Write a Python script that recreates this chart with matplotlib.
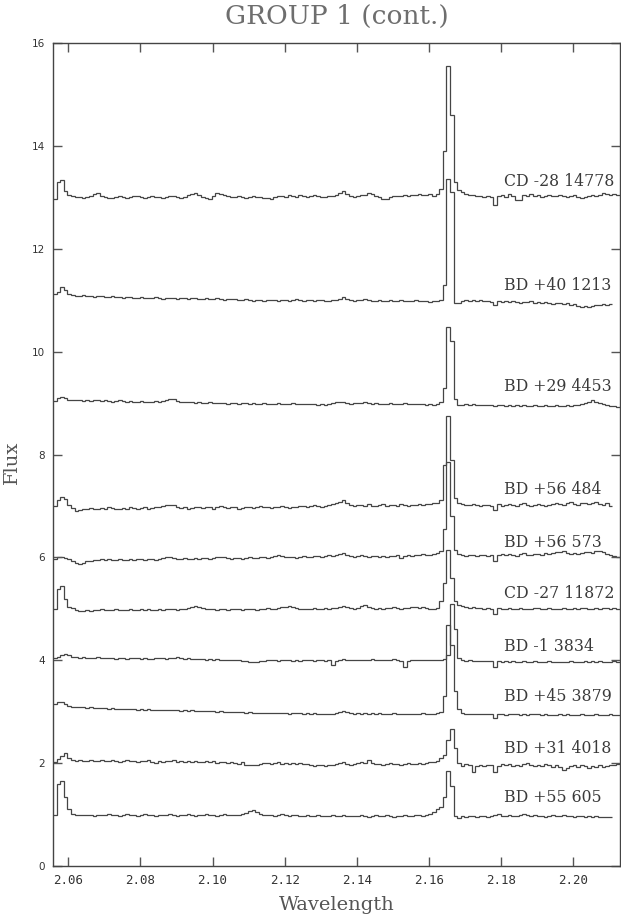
import numpy as np
import matplotlib
matplotlib.use("Agg")
import matplotlib.pyplot as plt

# ---------------- data ----------------
wl_start = 2.0558      # left edge of first bin (micron)
wl_step = 0.001        # bin width (micron)

star_names = ["CD -28 14778", "BD +40 1213", "BD +29 4453", "BD +56 484", "BD +56 573",
              "CD -27 11872", "BD -1 3834", "BD +45 3879", "BD +31 4018", "BD +55 605"]

cd_m28_14778 = [
    12.96, 13.30, 13.34, 13.12, 13.05, 13.02, 13.01, 13.00, 12.99, 13.01,
    13.03, 13.07, 13.08, 13.03, 13.00, 12.99, 12.98, 13.00, 13.02, 13.01,
    12.99, 13.00, 13.02, 13.03, 13.01, 12.99, 13.00, 13.02, 13.01, 13.00,
    12.99, 13.01, 13.03, 13.02, 13.00, 12.99, 13.01, 13.04, 13.06, 13.08,
    13.04, 13.01, 12.99, 12.96, 13.03, 13.08, 13.07, 13.04, 13.02, 13.01,
    13.00, 13.02, 13.01, 12.99, 13.00, 13.02, 13.01, 13.00, 12.98, 12.99,
    12.96, 13.01, 13.03, 13.02, 13.00, 13.04, 13.03, 13.01, 13.04, 13.02,
    13.01, 13.03, 13.05, 13.02, 13.00, 13.01, 13.03, 13.02, 13.04, 13.08,
    13.13, 13.07, 13.03, 13.01, 13.02, 13.04, 13.05, 13.09, 13.06, 13.02,
    13.00, 12.96, 12.96, 13.01, 13.02, 13.03, 13.02, 13.04, 13.03, 13.05,
    13.04, 13.06, 13.05, 13.04, 13.06, 13.03, 13.06, 13.17, 13.90, 15.55,
    14.60, 13.30, 13.15, 13.10, 13.06, 13.04, 13.05, 13.02, 13.03, 13.01,
    13.03, 13.00, 12.85, 13.02, 13.04, 13.00, 13.06, 13.02, 12.95, 12.95,
    13.05, 13.03, 13.06, 13.02, 13.04, 13.01, 13.03, 13.05, 13.02, 13.03,
    13.04, 13.02, 13.00, 13.03, 13.04, 13.01, 12.99, 13.01, 13.03, 13.04,
    13.02, 13.05, 13.08, 13.06, 13.04, 13.07, 13.05]

bd_p40_1213 = [
    11.12, 11.15, 11.25, 11.20, 11.12, 11.10, 11.09, 11.08, 11.10, 11.09,
    11.08, 11.07, 11.09, 11.08, 11.06, 11.07, 11.08, 11.07, 11.06, 11.05,
    11.06, 11.07, 11.05, 11.04, 11.06, 11.05, 11.04, 11.05, 11.06, 11.04,
    11.03, 11.04, 11.05, 11.04, 11.03, 11.05, 11.04, 11.03, 11.04, 11.05,
    11.03, 11.02, 11.04, 11.03, 11.02, 11.04, 11.03, 11.01, 11.02, 11.03,
    11.02, 11.01, 11.00, 11.02, 11.01, 10.99, 11.00, 11.01, 10.99, 11.00,
    11.01, 11.00, 10.99, 11.01, 11.00, 10.99, 11.00, 11.02, 11.00, 10.99,
    11.00, 11.01, 10.99, 11.00, 11.01, 10.99, 10.98, 11.00, 11.01, 11.03,
    11.07, 11.03, 11.00, 10.99, 11.00, 11.01, 11.02, 11.00, 10.98, 10.99,
    11.00, 10.98, 10.99, 11.00, 10.99, 10.98, 11.00, 10.99, 10.98, 10.99,
    11.00, 10.98, 10.99, 10.98, 10.97, 10.99, 10.98, 11.00, 11.30, 13.35,
    13.10, 10.95, 10.94, 10.98, 11.00, 10.99, 11.00, 10.98, 11.00, 10.98,
    10.99, 10.97, 10.90, 10.99, 10.97, 10.98, 10.96, 10.99, 10.97, 10.95,
    10.97, 10.96, 10.98, 10.95, 10.97, 10.94, 10.96, 10.95, 10.93, 10.95,
    10.94, 10.92, 10.94, 10.91, 10.93, 10.88, 10.87, 10.89, 10.87, 10.88,
    10.90, 10.91, 10.92, 10.91, 10.93]

bd_p29_4453 = [
    9.04, 9.09, 9.11, 9.09, 9.06, 9.05, 9.06, 9.05, 9.04, 9.05,
    9.04, 9.05, 9.06, 9.04, 9.05, 9.04, 9.03, 9.04, 9.05, 9.04,
    9.03, 9.04, 9.03, 9.02, 9.04, 9.03, 9.02, 9.03, 9.04, 9.03,
    9.04, 9.06, 9.08, 9.07, 9.04, 9.03, 9.02, 9.03, 9.02, 9.01,
    9.02, 9.01, 9.00, 9.02, 9.01, 9.00, 9.01, 9.00, 8.99, 9.01,
    9.00, 8.99, 9.00, 9.01, 8.99, 9.00, 8.99, 8.98, 9.00, 8.99,
    8.98, 8.99, 9.00, 8.99, 8.98, 8.99, 9.00, 8.98, 8.99, 8.98,
    8.99, 8.98, 8.99, 8.97, 8.98, 8.97, 8.98, 9.00, 9.02, 9.03,
    9.02, 9.00, 8.99, 9.00, 9.01, 9.00, 9.02, 9.01, 8.99, 9.00,
    8.99, 8.98, 8.99, 9.00, 8.99, 8.98, 8.99, 9.00, 8.98, 8.99,
    8.98, 8.99, 8.98, 8.97, 8.98, 8.97, 8.98, 9.03, 9.30, 10.47,
    10.20, 9.08, 8.96, 8.97, 8.98, 8.97, 8.98, 8.96, 8.97, 8.96,
    8.97, 8.96, 8.94, 8.96, 8.97, 8.95, 8.96, 8.94, 8.96, 8.95,
    8.96, 8.94, 8.95, 8.96, 8.94, 8.95, 8.96, 8.95, 8.94, 8.96,
    8.95, 8.94, 8.96, 8.95, 8.97, 8.96, 8.98, 9.00, 9.03, 9.05,
    9.03, 9.00, 8.98, 8.96, 8.94, 8.95, 8.93]

bd_p56_484 = [
    7.00, 7.12, 7.18, 7.14, 7.02, 6.96, 6.91, 6.92, 6.94, 6.95,
    6.96, 6.95, 6.94, 6.96, 6.95, 6.97, 6.96, 6.94, 6.95, 6.96,
    6.95, 6.97, 6.96, 6.95, 6.96, 6.97, 6.95, 6.96, 6.97, 6.98,
    6.99, 7.01, 7.02, 7.01, 6.98, 6.96, 6.97, 6.95, 6.96, 6.98,
    6.97, 6.96, 6.98, 6.97, 6.95, 6.97, 6.99, 6.97, 6.96, 6.98,
    6.97, 6.95, 6.96, 6.98, 6.97, 6.96, 6.97, 6.99, 6.98, 6.97,
    6.96, 6.98, 6.97, 6.99, 6.98, 6.96, 6.98, 6.97, 6.99, 7.00,
    6.98, 6.99, 7.01, 6.99, 6.98, 7.00, 7.01, 7.03, 7.05, 7.08,
    7.12, 7.06, 7.02, 7.00, 7.02, 7.01, 7.00, 7.03, 7.00, 6.99,
    7.01, 7.03, 7.00, 7.01, 7.02, 7.00, 7.03, 7.01, 7.00, 7.02,
    7.01, 7.03, 7.02, 7.04, 7.03, 7.05, 7.06, 7.12, 7.80, 8.75,
    7.90, 7.15, 7.05, 7.03, 7.02, 7.01, 7.03, 7.01, 7.00, 7.02,
    7.01, 7.00, 6.92, 7.03, 7.00, 7.02, 7.04, 7.01, 7.00, 7.03,
    7.05, 7.02, 7.00, 7.01, 7.03, 7.02, 7.00, 7.02, 7.04, 7.06,
    7.04, 7.02, 7.05, 7.07, 7.04, 7.02, 7.05, 7.06, 7.03, 7.05,
    7.07, 7.04, 7.02, 7.06, 7.00]

bd_p56_573 = [
    5.96, 6.01, 6.00, 5.98, 5.96, 5.93, 5.90, 5.88, 5.90, 5.92,
    5.93, 5.95, 5.94, 5.96, 5.95, 5.96, 5.94, 5.95, 5.96, 5.95,
    5.94, 5.96, 5.95, 5.97, 5.96, 5.95, 5.97, 5.96, 5.95, 5.97,
    5.98, 6.00, 6.01, 5.99, 5.97, 5.96, 5.98, 5.97, 5.96, 5.98,
    5.97, 5.99, 5.98, 5.97, 5.99, 6.00, 6.01, 6.00, 5.98, 5.97,
    5.99, 5.98, 5.97, 5.99, 6.00, 5.98, 5.99, 6.01, 6.00, 5.99,
    6.01, 6.03, 6.04, 6.02, 6.00, 6.01, 6.00, 5.99, 6.01, 6.02,
    6.01, 6.00, 6.02, 6.03, 6.01, 6.02, 6.04, 6.03, 6.05, 6.07,
    6.09, 6.05, 6.02, 6.01, 6.02, 6.04, 6.02, 6.01, 6.03, 6.02,
    6.00, 6.02, 6.01, 6.03, 6.02, 6.04, 5.98, 6.03, 6.04, 6.03,
    6.05, 6.04, 6.06, 6.05, 6.04, 6.07, 6.08, 6.12, 6.55, 7.85,
    6.80, 6.15, 6.06, 6.04, 6.03, 6.05, 6.04, 6.03, 6.05, 6.04,
    6.03, 6.05, 5.93, 6.05, 6.07, 6.04, 6.06, 6.05, 6.03, 6.06,
    6.08, 6.05, 6.04, 6.07, 6.06, 6.05, 6.08, 6.07, 6.09, 6.11,
    6.10, 6.12, 6.08, 6.06, 6.09, 6.07, 6.08, 6.10, 6.11, 6.09,
    6.12, 6.13, 6.10, 6.07, 6.04, 6.02, 6.01]

cd_m27_11872 = [
    5.00, 5.38, 5.45, 5.20, 5.04, 5.01, 4.98, 4.96, 4.96, 4.97,
    4.96, 4.98, 4.97, 4.99, 4.98, 4.97, 4.98, 4.99, 4.98, 4.97,
    4.98, 4.99, 4.98, 4.97, 4.99, 4.98, 4.99, 4.98, 4.97, 4.99,
    4.98, 4.99, 5.00, 4.99, 4.98, 4.99, 5.00, 5.01, 5.03, 5.05,
    5.04, 5.01, 4.99, 5.00, 4.99, 4.98, 5.00, 4.99, 4.98, 5.00,
    4.99, 5.00, 4.98, 4.99, 5.00, 4.99, 4.98, 5.00, 4.99, 5.01,
    5.00, 4.99, 5.01, 5.03, 5.04, 5.05, 5.03, 5.01, 5.00, 4.99,
    5.00, 4.99, 5.01, 5.00, 4.99, 5.01, 5.00, 5.02, 5.01, 5.03,
    5.05, 5.03, 5.01, 5.00, 5.02, 5.05, 5.07, 5.04, 5.02, 5.00,
    5.01, 5.00, 5.02, 5.01, 5.03, 5.02, 5.00, 5.02, 5.01, 5.03,
    5.04, 5.02, 5.03, 5.01, 5.00, 4.99, 5.02, 5.15, 5.50, 6.15,
    5.60, 5.15, 5.07, 5.05, 5.04, 5.02, 5.03, 5.01, 5.02, 5.00,
    5.01, 5.00, 4.90, 5.01, 5.00, 4.99, 5.01, 5.00, 4.99, 5.01,
    5.00, 4.99, 5.00, 5.02, 5.01, 5.00, 4.99, 5.01, 5.00, 4.99,
    5.00, 5.01, 5.00, 4.99, 5.01, 5.00, 5.02, 5.01, 5.00, 4.99,
    5.01, 5.00, 5.02, 5.01, 5.00, 5.01, 5.00]

bd_m1_3834 = [
    4.04, 4.06, 4.10, 4.12, 4.10, 4.07, 4.06, 4.05, 4.06, 4.05,
    4.04, 4.05, 4.06, 4.05, 4.04, 4.05, 4.04, 4.03, 4.05, 4.04,
    4.03, 4.04, 4.05, 4.04, 4.03, 4.04, 4.03, 4.02, 4.04, 4.05,
    4.04, 4.03, 4.04, 4.05, 4.06, 4.04, 4.03, 4.04, 4.03, 4.02,
    4.03, 4.02, 4.01, 4.02, 4.01, 4.02, 4.01, 4.00, 4.01, 4.00,
    4.00, 4.01, 3.99, 3.98, 3.97, 3.96, 3.96, 3.98, 3.99, 4.00,
    4.01, 4.00, 3.99, 4.00, 4.01, 4.00, 3.99, 4.00, 3.99, 4.00,
    4.01, 4.00, 3.99, 4.00, 4.01, 3.99, 4.00, 3.91, 3.99, 4.00,
    4.02, 4.01, 4.00, 4.01, 4.00, 4.01, 4.00, 4.01, 4.02, 4.00,
    4.01, 4.00, 4.01, 4.00, 4.02, 4.00, 3.99, 3.87, 3.99, 4.00,
    4.01, 4.00, 4.01, 4.00, 4.01, 4.00, 4.01, 4.00, 4.02, 4.10,
    5.10, 4.60, 4.05, 4.00, 3.99, 4.00, 3.99, 3.98, 3.99, 3.98,
    3.99, 3.98, 3.87, 3.98, 3.97, 3.98, 3.97, 3.98, 3.96, 3.97,
    3.98, 3.97, 3.96, 3.98, 3.97, 3.96, 3.97, 3.98, 3.97, 3.96,
    3.97, 3.96, 3.97, 3.98, 3.97, 3.96, 3.97, 3.98, 3.97, 3.98,
    3.97, 3.98, 3.97, 3.96, 3.97, 3.98, 3.97]

bd_p45_3879 = [
    3.15, 3.19, 3.18, 3.15, 3.12, 3.10, 3.09, 3.10, 3.09, 3.08,
    3.09, 3.08, 3.07, 3.08, 3.07, 3.06, 3.07, 3.06, 3.05, 3.06,
    3.05, 3.06, 3.05, 3.04, 3.05, 3.04, 3.05, 3.04, 3.03, 3.04,
    3.03, 3.04, 3.03, 3.04, 3.03, 3.02, 3.03, 3.02, 3.03, 3.02,
    3.01, 3.02, 3.01, 3.02, 3.01, 3.00, 3.01, 3.00, 2.99, 3.00,
    2.99, 3.00, 2.99, 2.98, 2.99, 2.98, 2.97, 2.98, 2.97, 2.98,
    2.97, 2.98, 2.97, 2.98, 2.97, 2.96, 2.97, 2.98, 2.97, 2.96,
    2.97, 2.96, 2.97, 2.96, 2.95, 2.96, 2.95, 2.96, 2.98, 3.00,
    3.02, 2.99, 2.97, 2.96, 2.97, 2.96, 2.97, 2.96, 2.97, 2.96,
    2.97, 2.96, 2.95, 2.96, 2.97, 2.96, 2.95, 2.96, 2.95, 2.96,
    2.95, 2.96, 2.97, 2.96, 2.95, 2.96, 2.97, 3.00, 3.30, 4.68,
    4.30, 3.40, 3.05, 2.97, 2.96, 2.95, 2.96, 2.95, 2.96, 2.95,
    2.96, 2.95, 2.87, 2.96, 2.95, 2.94, 2.95, 2.96, 2.95, 2.94,
    2.95, 2.94, 2.95, 2.96, 2.95, 2.94, 2.95, 2.94, 2.93, 2.94,
    2.95, 2.94, 2.95, 2.94, 2.93, 2.94, 2.95, 2.94, 2.93, 2.94,
    2.95, 2.94, 2.93, 2.94, 2.95, 2.94, 2.94]

bd_p31_4018 = [
    2.03, 2.08, 2.14, 2.20, 2.10, 2.07, 2.05, 2.06, 2.04, 2.05,
    2.06, 2.04, 2.05, 2.07, 2.05, 2.04, 2.06, 2.05, 2.03, 2.05,
    2.06, 2.04, 2.05, 2.03, 2.05, 2.04, 2.06, 2.03, 2.00, 2.04,
    2.03, 2.05, 2.04, 2.06, 2.03, 2.04, 2.02, 2.04, 2.03, 2.05,
    2.02, 2.03, 2.05, 2.02, 2.04, 2.01, 2.03, 2.02, 2.00, 2.02,
    2.01, 1.99, 2.02, 1.97, 1.96, 1.97, 1.96, 1.99, 2.01, 2.00,
    1.98, 2.00, 2.02, 1.99, 2.01, 1.98, 2.00, 1.99, 2.01, 1.98,
    1.99, 1.96, 1.95, 1.97, 1.96, 1.95, 1.97, 1.96, 1.99, 2.01,
    2.03, 1.99, 1.97, 1.98, 2.00, 2.03, 2.00, 2.06, 2.00, 1.98,
    1.99, 1.97, 1.98, 2.00, 1.98, 1.99, 1.97, 1.99, 2.01, 1.99,
    1.98, 2.00, 1.99, 2.01, 2.03, 2.02, 2.05, 2.10, 2.15, 2.45,
    2.66, 2.30, 2.00, 1.95, 1.98, 1.96, 1.83, 1.95, 1.97, 1.94,
    1.96, 1.97, 1.83, 1.95, 1.98, 1.96, 1.99, 1.95, 1.97, 1.94,
    1.98, 2.00, 1.96, 1.94, 1.97, 1.95, 1.98, 1.96, 1.93, 1.96,
    1.92, 1.87, 1.90, 1.95, 1.97, 1.93, 1.96, 1.94, 1.91, 1.95,
    1.93, 1.96, 1.92, 1.95, 1.97, 1.96, 1.98]

bd_p55_605 = [
    1.00, 1.60, 1.65, 1.35, 1.10, 1.02, 1.00, 0.99, 1.00, 0.99,
    1.00, 0.98, 0.99, 1.00, 0.99, 1.01, 1.00, 0.99, 0.98, 1.00,
    1.01, 0.99, 1.00, 0.98, 1.00, 1.01, 0.99, 1.00, 0.98, 0.99,
    1.00, 0.99, 1.01, 1.00, 0.98, 0.99, 1.00, 1.01, 0.99, 0.98,
    1.00, 0.99, 1.01, 1.00, 0.99, 0.98, 1.00, 1.02, 1.00, 0.99,
    1.00, 0.99, 1.02, 1.04, 1.06, 1.08, 1.05, 1.02, 1.00, 0.99,
    1.00, 0.98, 0.99, 1.01, 1.00, 0.98, 0.99, 1.00, 0.98, 0.97,
    0.99, 0.98, 0.97, 0.99, 0.98, 0.97, 0.98, 0.99, 0.97, 0.98,
    1.00, 0.98, 0.97, 0.98, 0.97, 0.99, 0.98, 0.96, 0.97, 0.99,
    0.98, 0.97, 0.99, 0.98, 0.96, 0.98, 0.97, 0.99, 0.98, 0.97,
    0.99, 1.00, 0.98, 1.00, 1.02, 1.05, 1.10, 1.15, 1.35, 1.85,
    1.55, 0.98, 0.93, 0.97, 0.96, 0.98, 0.97, 0.96, 0.98, 0.97,
    0.96, 0.98, 0.99, 1.01, 0.98, 0.97, 0.99, 0.98, 0.97, 0.99,
    1.01, 0.99, 0.98, 1.00, 0.97, 0.98, 0.96, 0.98, 0.99, 0.97,
    0.98, 1.00, 0.98, 0.97, 0.96, 0.98, 0.97, 0.95, 0.97, 0.96,
    0.97, 0.96, 0.95, 0.96, 0.95]

spectra = [cd_m28_14778, bd_p40_1213, bd_p29_4453, bd_p56_484, bd_p56_573,
           cd_m27_11872, bd_m1_3834, bd_p45_3879, bd_p31_4018, bd_p55_605]

x_ticks = [2.06, 2.08, 2.10, 2.12, 2.14, 2.16, 2.18, 2.20]
x_ticklabels = ["2.06", "2.08", "2.10", "2.12", "2.14", "2.16", "2.18", "2.20"]
y_ticks = [0, 2, 4, 6, 8, 10, 12, 14, 16]

# ---------------- layout ----------------
label_x = 2.1808
label_y = [13.30, 11.29, 9.33, 7.31, 6.28, 5.29, 4.26, 3.29, 2.29, 1.34]

W, H = 621, 917
fig = plt.figure(figsize=(W / 100, H / 100), dpi=100)
ax = fig.add_axes([53 / W, 51 / H, 567 / W, 823 / H])

line_col = "#454545"
for vals in spectra:
    edges = wl_start + wl_step * np.arange(len(vals) + 1)
    ax.stairs(vals, edges, baseline=None, color=line_col, lw=0.9)

for name, ly in zip(star_names, label_y):
    ax.text(label_x, ly, name, family="DejaVu Serif", fontsize=11.3,
            color="#3a3a3a", ha="left", va="center")

ax.set_xlim(2.0558, 2.2129)
ax.set_ylim(0, 16)
ax.set_xticks(x_ticks)
ax.set_xticklabels(x_ticklabels, family="DejaVu Sans Mono", fontsize=9, color="#333333")
ax.set_yticks(y_ticks)
ax.set_yticklabels([str(v) for v in y_ticks], family="DejaVu Sans", fontsize=7.5, color="#333333")
ax.tick_params(axis="both", direction="in", length=6.5, width=1, color="#555555",
               top=True, right=True)
ax.tick_params(axis="x", pad=6)
ax.tick_params(axis="y", pad=6)
for sp in ax.spines.values():
    sp.set_color("#444444")
    sp.set_linewidth(1.0)

fig.text(337 / W, 1 - 16 / H, "GROUP 1 (cont.)", family="DejaVu Serif", fontsize=19,
         color="#6e6e6e", ha="center", va="center")
fig.text(337 / W, 1 - 905 / H, "Wavelength", family="DejaVu Serif", fontsize=14,
         color="#555555", ha="center", va="center")
fig.text(12 / W, 1 - 462 / H, "Flux", family="DejaVu Serif", fontsize=14,
         color="#555555", ha="center", va="center", rotation=90)

fig.savefig("out.png", dpi=100)
